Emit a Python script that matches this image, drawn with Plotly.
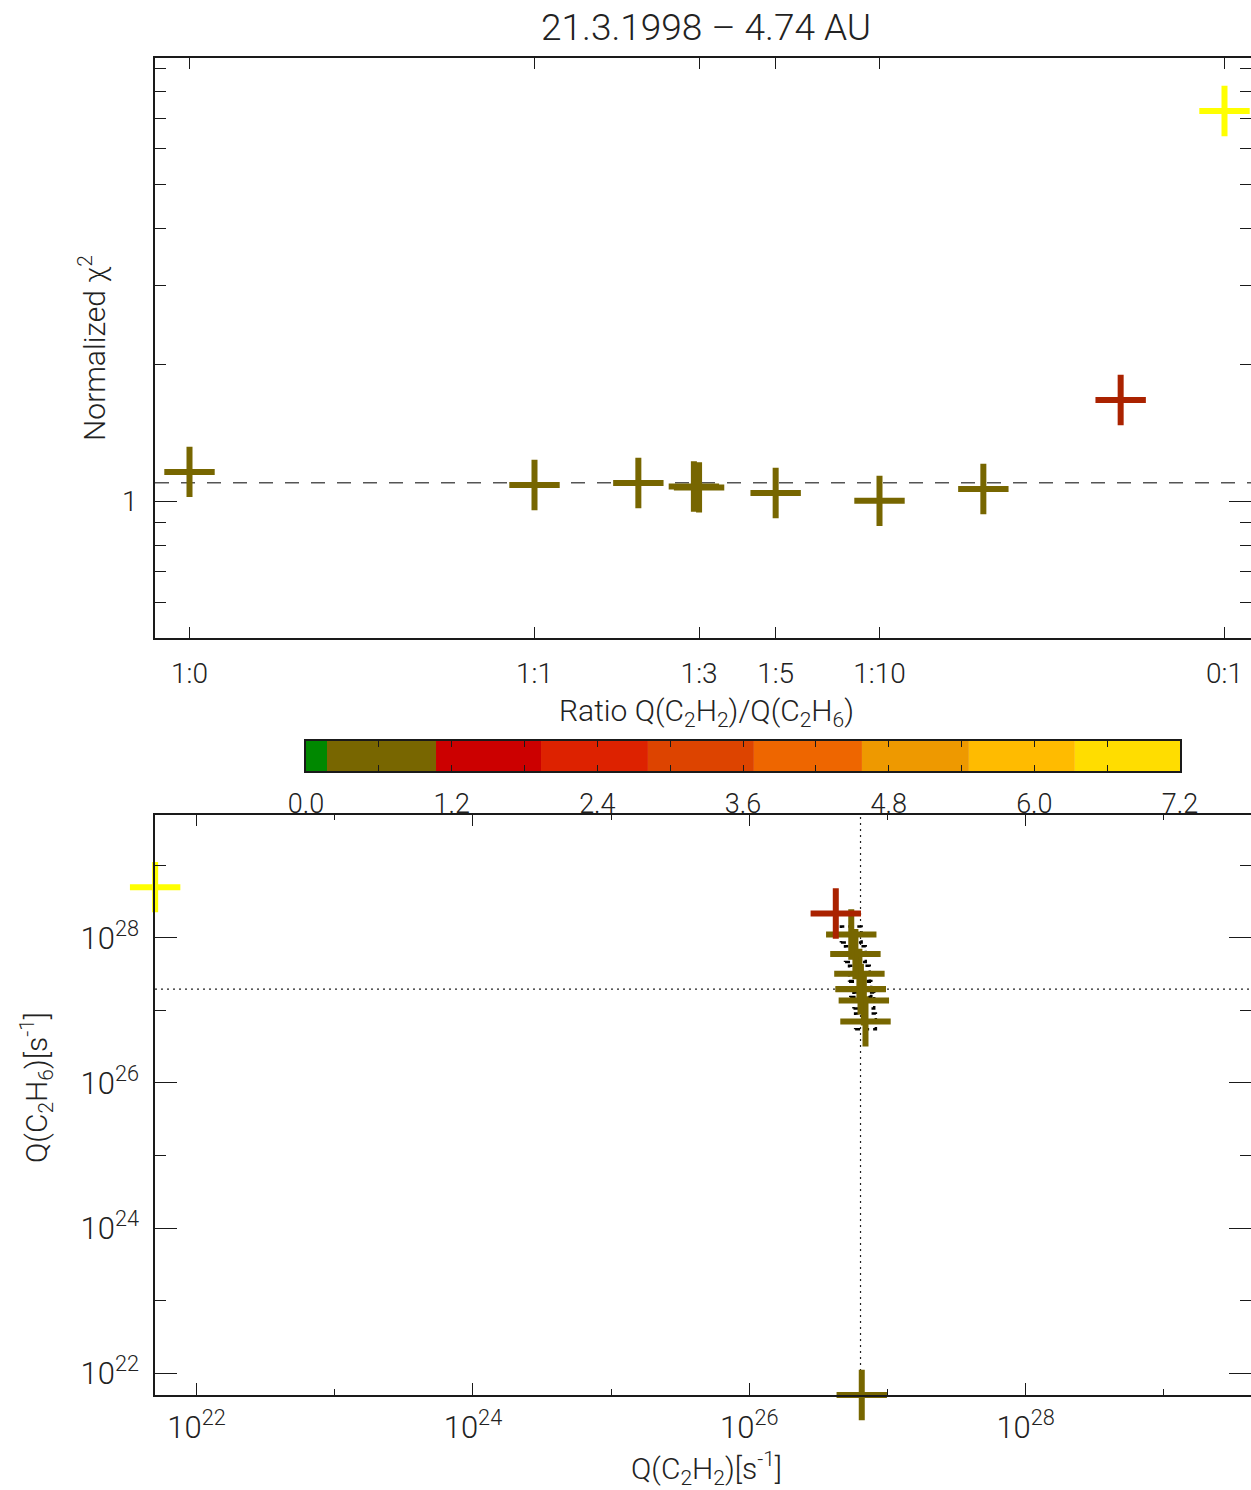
import numpy as np
import plotly.graph_objects as go

W, H = 1251, 1490

# ---------------- data ----------------
tick_pos = [0, 1, 1.477, 1.699, 2, 3]
tick_text = ["1:0", "1:1", "1:3", "1:5", "1:10", "0:1"]

ratio_labels = ["1:0", "1:1", "1:2", "1:3", "1:3", "1:5", "1:10", "1:20", "1:50", "0:1"]
ratio_pos = [0, 1, 1.301, 1.462, 1.477, 1.699, 2, 2.301, 2.699, 3]
chi2 = [1.162, 1.087, 1.098, 1.079, 1.074, 1.044, 1.003, 1.065, 1.674, 7.26]

log_q_c2h2 = [26.814, 26.841, 26.829, 26.806, 26.807, 26.797, 26.768, 26.738, 26.626, 21.70]
log_q_c2h6 = [21.70, 26.848, 27.137, 27.290, 27.293, 27.503, 27.775, 28.046, 28.335, 28.698]

point_colors = ["#776600"] * 8 + ["#AA2200", "#FFFF00"]

chi2_ref = 1.1
best_log_c2h2 = 26.805
best_log_c2h6 = 27.293

# uncertainty boxes of the fitted cluster (dex)
err_dx = 0.075
err_dy = 0.11

cbar_edges = [0, 0.173, 1.071, 1.936, 2.817, 3.690, 4.580, 5.461, 6.334, 7.2]
cbar_colors = ["#008800", "#786600", "#CC0000", "#DD2200", "#DD4400",
               "#EE6600", "#EE9900", "#FFBB00", "#FFDD00"]
cbar_ticks = [round(0.6 * i, 1) for i in range(13)]
cbar_text = [f"{v:.1f}" if i % 2 == 0 else "" for i, v in enumerate(cbar_ticks)]

pow_ticks = [1e22, 1e24, 1e26, 1e28]
pow_text = [f"10<sup>{e}</sup>" for e in (22, 24, 26, 28)]
pow_minor = [1e23, 1e25, 1e27, 1e29]

# ---------------- style ----------------
FONT = "Roboto"
TXT = "#222222"
AX = "#1a1a1a"

def xf(px):
    return px / W

def yf(py):
    return 1 - py / H

fig = go.Figure()

marker_common = dict(symbol="cross-thin", size=36)

# top panel
fig.add_trace(go.Scatter(
    x=ratio_pos, y=chi2, mode="markers", xaxis="x", yaxis="y",
    marker=dict(**marker_common, color=point_colors,
                line=dict(color=point_colors, width=6)),
    cliponaxis=False, hoverinfo="x+y", text=ratio_labels,
))

# colour bar
mids = [(a + b) / 2 for a, b in zip(cbar_edges[:-1], cbar_edges[1:])]
widths = [b - a for a, b in zip(cbar_edges[:-1], cbar_edges[1:])]
fig.add_trace(go.Bar(
    x=mids, y=[1] * len(mids), width=widths, base=0,
    marker=dict(color=cbar_colors, line=dict(width=0)),
    xaxis="x3", yaxis="y3", hoverinfo="skip",
))

# bottom panel: dashed uncertainty boxes for the fitted cluster
bx, by = [], []
for lx, ly in zip(log_q_c2h2[1:8], log_q_c2h6[1:8]):
    xs = [lx - err_dx, lx + err_dx, lx + err_dx, lx - err_dx, lx - err_dx]
    ys = [ly - err_dy, ly - err_dy, ly + err_dy, ly + err_dy, ly - err_dy]
    bx += [10 ** v for v in xs] + [None]
    by += [10 ** v for v in ys] + [None]
fig.add_trace(go.Scatter(
    x=bx, y=by, mode="lines", xaxis="x2", yaxis="y2",
    line=dict(color="black", width=2.5, dash="5px,4px"), hoverinfo="skip",
))

fig.add_trace(go.Scatter(
    x=[10 ** v for v in log_q_c2h2], y=[10 ** v for v in log_q_c2h6],
    mode="markers", xaxis="x2", yaxis="y2",
    marker=dict(**marker_common, color=point_colors,
                line=dict(color=point_colors, width=6)),
    cliponaxis=False, text=ratio_labels,
))

def tf(size):
    return dict(family=FONT, size=size, color=TXT, weight=300)

axis_common = dict(showline=True, linecolor=AX, linewidth=1.6, mirror="allticks",
                   ticks="inside", tickcolor=AX, tickwidth=1.4, showgrid=False,
                   zeroline=False, automargin=False)

x_dom = [xf(155), 1.0]

fig.update_layout(
    template="none",
    width=W, height=H, margin=dict(l=0, r=0, t=0, b=0, pad=0),
    paper_bgcolor="white", plot_bgcolor="white", showlegend=False,
    xaxis=dict(**axis_common, domain=x_dom, anchor="y", range=[-0.1, 3.0768],
               tickmode="array", tickvals=tick_pos, ticktext=tick_text,
               tickfont=tf(28), ticklen=11, ticklabelstandoff=10),
    yaxis=dict(**axis_common, domain=[yf(638), yf(58)], anchor="x", type="log",
               range=[np.log10(0.5), np.log10(9.5)], tickfont=tf(28),
               tickmode="array", tickvals=[1], ticktext=["1"], ticklen=22,
               ticklabelstandoff=10,
               minor=dict(tickmode="array",
                          tickvals=[0.6, 0.7, 0.8, 0.9, 2, 3, 4, 5, 6, 7, 8, 9],
                          ticks="inside", ticklen=11, tickcolor=AX, tickwidth=1.4)),
    xaxis3=dict(**axis_common, domain=[xf(306), xf(1180)], anchor="y3",
                range=[0, 7.2], tickmode="array", tickvals=cbar_ticks,
                ticktext=cbar_text, tickfont=tf(27), ticklen=6, ticklabelstandoff=8),
    yaxis3=dict(showline=True, linecolor=AX, linewidth=1.6, mirror=True,
                domain=[yf(771), yf(741)], anchor="x3", range=[0, 1],
                showticklabels=False, ticks="", showgrid=False, zeroline=False,
                automargin=False),
    xaxis2=dict(**axis_common, domain=x_dom, anchor="y2", type="log",
                range=[21.699, 29.631], tickmode="array",
                tickvals=pow_ticks, ticktext=pow_text, tickfont=tf(31),
                ticklen=12, ticklabelstandoff=4,
                minor=dict(tickmode="array", tickvals=pow_minor,
                           ticks="inside", ticklen=6, tickcolor=AX, tickwidth=1.4)),
    yaxis2=dict(**axis_common, domain=[yf(1395), yf(814.5)], anchor="x2", type="log",
                range=[21.699, 29.699], tickmode="array",
                tickvals=pow_ticks, ticktext=pow_text, tickfont=tf(31),
                ticklen=22, ticklabelstandoff=8,
                minor=dict(tickmode="array", tickvals=pow_minor,
                           ticks="inside", ticklen=11, tickcolor=AX, tickwidth=1.4)),
)

# reference lines
fig.add_shape(type="line", xref="x domain", yref="y", x0=0, x1=1, y0=chi2_ref, y1=chi2_ref,
              line=dict(color="#555555", width=1.5, dash="14px,12px"), layer="below")
fig.add_shape(type="line", xref="x2 domain", yref="y2", x0=0, x1=1,
              y0=10 ** best_log_c2h6, y1=10 ** best_log_c2h6,
              line=dict(color="#222222", width=1.2, dash="2px,4px"), layer="below")
fig.add_shape(type="line", xref="x2", yref="y2 domain", y0=0, y1=1,
              x0=10 ** best_log_c2h2, x1=10 ** best_log_c2h2,
              line=dict(color="#222222", width=1.2, dash="2px,4px"), layer="below")

def ann(text, x, y, size=29, angle=0):
    fig.add_annotation(text=text, x=xf(x), y=yf(y), xref="paper", yref="paper",
                       showarrow=False, textangle=angle, xanchor="center", yanchor="middle",
                       font=tf(size))

ann("21.3.1998 \u2013 4.74 AU", 706, 27, size=37)
ann("Normalized \u03c7<sup>2</sup>", 92, 348, size=30, angle=-90)
ann("Ratio Q(C<sub>2</sub>H<sub>2</sub>)/Q(C<sub>2</sub>H<sub>6</sub>)", 706, 712, size=30)
ann("Q(C<sub>2</sub>H<sub>2</sub>)[s<sup>-1</sup>]", 706, 1468, size=30)
ann("Q(C<sub>2</sub>H<sub>6</sub>)[s<sup>-1</sup>]", 36, 1088, size=30, angle=-90)

fig.write_html("out.html")
